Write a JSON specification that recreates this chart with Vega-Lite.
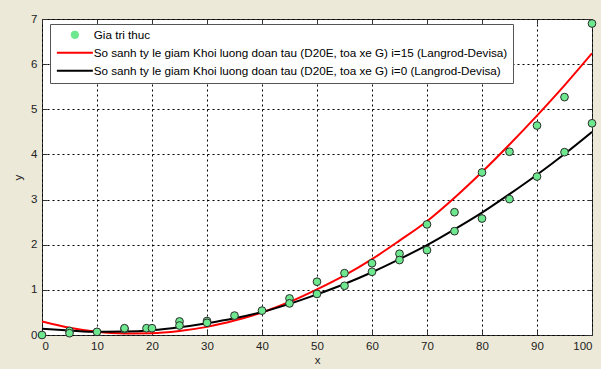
{
  "$schema": "https://vega.github.io/schema/vega-lite/v6.json",
  "width": 550,
  "height": 316,
  "autosize": {"type": "none"},
  "padding": {"left": 42, "top": 19, "right": 9, "bottom": 34},
  "background": "#ECE9D8",
  "config": {
    "view": {"fill": "white", "stroke": "#333", "strokeWidth": 1},
    "font": "Liberation Sans",
    "axis": {
      "labelFont": "Liberation Sans", "labelFontSize": 11.5, "labelColor": "#222",
      "titleFont": "Liberation Sans", "titleFontSize": 11.5, "titleFontWeight": "normal", "titleColor": "#222",
      "domain": false, "tickColor": "#333", "tickSize": -5, "labelPadding": 10,
      "gridColor": "#000", "gridDash": [2, 3], "gridOpacity": 1, "gridWidth": 1
    }
  },
  "datasets": {
    "pts": [
      {"x": 0, "y": 0.0}, {"x": 5, "y": 0.09}, {"x": 5, "y": 0.04}, {"x": 10, "y": 0.07},
      {"x": 15, "y": 0.13}, {"x": 15, "y": 0.15}, {"x": 19, "y": 0.15}, {"x": 20, "y": 0.15},
      {"x": 25, "y": 0.30}, {"x": 25, "y": 0.21}, {"x": 30, "y": 0.31}, {"x": 30, "y": 0.27},
      {"x": 35, "y": 0.43}, {"x": 40, "y": 0.54}, {"x": 45, "y": 0.81}, {"x": 45, "y": 0.70},
      {"x": 50, "y": 1.18}, {"x": 50, "y": 0.91}, {"x": 55, "y": 1.37}, {"x": 55, "y": 1.09},
      {"x": 60, "y": 1.59}, {"x": 60, "y": 1.40}, {"x": 65, "y": 1.80}, {"x": 65, "y": 1.66},
      {"x": 70, "y": 2.45}, {"x": 70, "y": 1.88}, {"x": 75, "y": 2.72}, {"x": 75, "y": 2.30},
      {"x": 80, "y": 3.60}, {"x": 80, "y": 2.58}, {"x": 85, "y": 4.06}, {"x": 85, "y": 3.01},
      {"x": 90, "y": 4.64}, {"x": 90, "y": 3.51}, {"x": 95, "y": 5.27}, {"x": 95, "y": 4.05},
      {"x": 100, "y": 6.90}, {"x": 100, "y": 4.69}
    ],
    "curves": [
      {"s": "So sanh ty le giam Khoi luong doan tau (D20E, toa xe G) i=15 (Langrod-Devisa)", "x": 0, "y": 0.30},
      {"s": "So sanh ty le giam Khoi luong doan tau (D20E, toa xe G) i=15 (Langrod-Devisa)", "x": 5, "y": 0.16},
      {"s": "So sanh ty le giam Khoi luong doan tau (D20E, toa xe G) i=15 (Langrod-Devisa)", "x": 10, "y": 0.07},
      {"s": "So sanh ty le giam Khoi luong doan tau (D20E, toa xe G) i=15 (Langrod-Devisa)", "x": 15, "y": 0.035},
      {"s": "So sanh ty le giam Khoi luong doan tau (D20E, toa xe G) i=15 (Langrod-Devisa)", "x": 20, "y": 0.04},
      {"s": "So sanh ty le giam Khoi luong doan tau (D20E, toa xe G) i=15 (Langrod-Devisa)", "x": 25, "y": 0.09},
      {"s": "So sanh ty le giam Khoi luong doan tau (D20E, toa xe G) i=15 (Langrod-Devisa)", "x": 30, "y": 0.18},
      {"s": "So sanh ty le giam Khoi luong doan tau (D20E, toa xe G) i=15 (Langrod-Devisa)", "x": 35, "y": 0.32},
      {"s": "So sanh ty le giam Khoi luong doan tau (D20E, toa xe G) i=15 (Langrod-Devisa)", "x": 40, "y": 0.50},
      {"s": "So sanh ty le giam Khoi luong doan tau (D20E, toa xe G) i=15 (Langrod-Devisa)", "x": 45, "y": 0.73},
      {"s": "So sanh ty le giam Khoi luong doan tau (D20E, toa xe G) i=15 (Langrod-Devisa)", "x": 50, "y": 1.01},
      {"s": "So sanh ty le giam Khoi luong doan tau (D20E, toa xe G) i=15 (Langrod-Devisa)", "x": 55, "y": 1.32},
      {"s": "So sanh ty le giam Khoi luong doan tau (D20E, toa xe G) i=15 (Langrod-Devisa)", "x": 60, "y": 1.68},
      {"s": "So sanh ty le giam Khoi luong doan tau (D20E, toa xe G) i=15 (Langrod-Devisa)", "x": 65, "y": 2.09},
      {"s": "So sanh ty le giam Khoi luong doan tau (D20E, toa xe G) i=15 (Langrod-Devisa)", "x": 70, "y": 2.52},
      {"s": "So sanh ty le giam Khoi luong doan tau (D20E, toa xe G) i=15 (Langrod-Devisa)", "x": 75, "y": 3.04},
      {"s": "So sanh ty le giam Khoi luong doan tau (D20E, toa xe G) i=15 (Langrod-Devisa)", "x": 80, "y": 3.61},
      {"s": "So sanh ty le giam Khoi luong doan tau (D20E, toa xe G) i=15 (Langrod-Devisa)", "x": 85, "y": 4.22},
      {"s": "So sanh ty le giam Khoi luong doan tau (D20E, toa xe G) i=15 (Langrod-Devisa)", "x": 90, "y": 4.86},
      {"s": "So sanh ty le giam Khoi luong doan tau (D20E, toa xe G) i=15 (Langrod-Devisa)", "x": 95, "y": 5.53},
      {"s": "So sanh ty le giam Khoi luong doan tau (D20E, toa xe G) i=15 (Langrod-Devisa)", "x": 100, "y": 6.24},
      {"s": "So sanh ty le giam Khoi luong doan tau (D20E, toa xe G) i=0 (Langrod-Devisa)", "x": 0, "y": 0.14},
      {"s": "So sanh ty le giam Khoi luong doan tau (D20E, toa xe G) i=0 (Langrod-Devisa)", "x": 5, "y": 0.10},
      {"s": "So sanh ty le giam Khoi luong doan tau (D20E, toa xe G) i=0 (Langrod-Devisa)", "x": 10, "y": 0.07},
      {"s": "So sanh ty le giam Khoi luong doan tau (D20E, toa xe G) i=0 (Langrod-Devisa)", "x": 15, "y": 0.075},
      {"s": "So sanh ty le giam Khoi luong doan tau (D20E, toa xe G) i=0 (Langrod-Devisa)", "x": 20, "y": 0.105},
      {"s": "So sanh ty le giam Khoi luong doan tau (D20E, toa xe G) i=0 (Langrod-Devisa)", "x": 25, "y": 0.17},
      {"s": "So sanh ty le giam Khoi luong doan tau (D20E, toa xe G) i=0 (Langrod-Devisa)", "x": 30, "y": 0.26},
      {"s": "So sanh ty le giam Khoi luong doan tau (D20E, toa xe G) i=0 (Langrod-Devisa)", "x": 35, "y": 0.37},
      {"s": "So sanh ty le giam Khoi luong doan tau (D20E, toa xe G) i=0 (Langrod-Devisa)", "x": 40, "y": 0.51},
      {"s": "So sanh ty le giam Khoi luong doan tau (D20E, toa xe G) i=0 (Langrod-Devisa)", "x": 45, "y": 0.69},
      {"s": "So sanh ty le giam Khoi luong doan tau (D20E, toa xe G) i=0 (Langrod-Devisa)", "x": 50, "y": 0.90},
      {"s": "So sanh ty le giam Khoi luong doan tau (D20E, toa xe G) i=0 (Langrod-Devisa)", "x": 55, "y": 1.13},
      {"s": "So sanh ty le giam Khoi luong doan tau (D20E, toa xe G) i=0 (Langrod-Devisa)", "x": 60, "y": 1.39},
      {"s": "So sanh ty le giam Khoi luong doan tau (D20E, toa xe G) i=0 (Langrod-Devisa)", "x": 65, "y": 1.68},
      {"s": "So sanh ty le giam Khoi luong doan tau (D20E, toa xe G) i=0 (Langrod-Devisa)", "x": 70, "y": 1.99},
      {"s": "So sanh ty le giam Khoi luong doan tau (D20E, toa xe G) i=0 (Langrod-Devisa)", "x": 75, "y": 2.34},
      {"s": "So sanh ty le giam Khoi luong doan tau (D20E, toa xe G) i=0 (Langrod-Devisa)", "x": 80, "y": 2.71},
      {"s": "So sanh ty le giam Khoi luong doan tau (D20E, toa xe G) i=0 (Langrod-Devisa)", "x": 85, "y": 3.12},
      {"s": "So sanh ty le giam Khoi luong doan tau (D20E, toa xe G) i=0 (Langrod-Devisa)", "x": 90, "y": 3.55},
      {"s": "So sanh ty le giam Khoi luong doan tau (D20E, toa xe G) i=0 (Langrod-Devisa)", "x": 95, "y": 4.01},
      {"s": "So sanh ty le giam Khoi luong doan tau (D20E, toa xe G) i=0 (Langrod-Devisa)", "x": 100, "y": 4.50}
    ]
  },
  "resolve": {"axis": {"x": "independent", "y": "independent"}},
  "layer": [
    {
      "data": {"name": "curves"},
      "mark": {"type": "line", "interpolate": "monotone", "strokeWidth": 2, "clip": true},
      "encoding": {
        "x": {"field": "x", "type": "quantitative", "scale": {"domain": [0, 100], "nice": false},
              "axis": {"orient": "bottom", "values": [0,10,20,30,40,50,60,70,80,90,100], "grid": true, "title": "x", "titlePadding": 3}},
        "y": {"field": "y", "type": "quantitative", "scale": {"domain": [0, 7], "nice": false, "zero": false},
              "axis": {"orient": "left", "values": [0,1,2,3,4,5,6,7], "grid": true, "title": "y", "titlePadding": 7}},
        "color": {
          "field": "s", "type": "nominal",
          "scale": {
            "domain": ["Gia tri thuc",
                       "So sanh ty le giam Khoi luong doan tau (D20E, toa xe G) i=15 (Langrod-Devisa)",
                       "So sanh ty le giam Khoi luong doan tau (D20E, toa xe G) i=0 (Langrod-Devisa)"],
            "range": ["#6ee88e", "#ff0000", "#000000"]
          },
          "legend": {
            "title": null, "orient": "none", "legendX": 8, "legendY": 5,
            "symbolType": "stroke", "symbolSize": 1296, "symbolStrokeWidth": 2, "symbolOffset": 14,
            "labelFont": "Liberation Sans", "labelFontSize": 11.7, "labelColor": "#000", "labelLimit": 600, "labelOffset": 13,
            "padding": 5, "rowPadding": 5,
            "strokeColor": "#555", "fillColor": "white",
            "encode": {
              "symbols": {
                "update": {
                  "shape": {"signal": "datum.value === 'Gia tri thuc' ? 'circle' : 'stroke'"},
                  "size": {"signal": "datum.value === 'Gia tri thuc' ? 56 : 1296"},
                  "fill": {"signal": "datum.value === 'Gia tri thuc' ? '#6ee88e' : 'transparent'"},
                  "stroke": {"signal": "datum.value === 'Gia tri thuc' ? '#2b2b2b' : scale('color', datum.value)"},
                  "strokeWidth": {"signal": "datum.value === 'Gia tri thuc' ? 1 : 2"}
                }
              }
            }
          }
        }
      }
    },
    {
      "data": {"name": "pts"},
      "mark": {"type": "point", "shape": "circle", "filled": true, "fill": "#6ee88e", "stroke": "#2b2b2b", "strokeWidth": 1, "size": 60, "opacity": 1},
      "encoding": {
        "x": {"field": "x", "type": "quantitative", "scale": {"domain": [0, 100], "nice": false},
              "axis": {"orient": "top", "values": [0,10,20,30,40,50,60,70,80,90,100], "labels": false, "grid": false, "title": null}},
        "y": {"field": "y", "type": "quantitative", "scale": {"domain": [0, 7], "nice": false, "zero": false},
              "axis": {"orient": "right", "values": [0,1,2,3,4,5,6,7], "labels": false, "grid": false, "title": null}}
      }
    }
  ]
}
